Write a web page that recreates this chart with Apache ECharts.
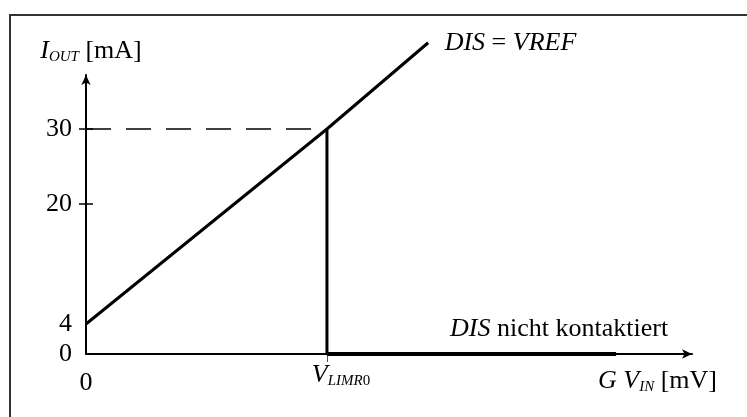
<!DOCTYPE html>
<html>
<head>
<meta charset="utf-8">
<script src="https://cdn.jsdelivr.net/npm/echarts@6/dist/echarts.min.js"></script>
<style>
html, body { margin: 0; padding: 0; background: #fff; }
#main { width: 747px; height: 417px; }
</style>
</head>
<body>
<div id="main"></div>
<script>
// G*V_IN in arbitrary units, V_LIMR0 sits at 10
var vLimr = 10;
var riseX = [0, 10, 14.2];
var riseY = [4, 30, 41.5];
var dropX = [10, 10];
var dropY = [30, 0];
var floorX = [10, 22];
var floorY = [0, 0];
var refX = [0, 10];
var refY = [30, 30];
var yLabelVals = [0, 4, 20, 30];
var yTickVals = [20, 30];
var xLabelVals = [0, 10];
var xTickVals = [10];
var riseText = '{i|DIS} = {i|VREF}';
var floorText = '{i|DIS}{n| nicht kontaktiert}';

function zip(xs, ys) {
  return xs.map(function (x, i) { return [x, ys[i]]; });
}

var serif = "'Liberation Serif', 'Times New Roman', serif";
var rich = {
  i: { fontFamily: serif, fontSize: 26, fontStyle: 'italic', lineHeight: 28, color: '#000' },
  n: { fontFamily: serif, fontSize: 26, lineHeight: 28, color: '#000' },
  s: { fontFamily: serif, fontSize: 15, fontStyle: 'italic', lineHeight: 8, verticalAlign: 'bottom', color: '#000' },
  sn: { fontFamily: serif, fontSize: 15, lineHeight: 8, verticalAlign: 'bottom', color: '#000' },
  gap: { fontSize: 1, lineHeight: 8, color: 'rgba(0,0,0,0)' },
  v: { fontFamily: serif, fontSize: 26, fontStyle: 'italic', lineHeight: 28, padding: [0, 0, 0, 28], color: '#000' }
};

var myChart = echarts.init(document.getElementById('main'));
var option = {
  backgroundColor: '#fff',
  animation: false,
  grid: { left: 86, right: 55, top: 75, bottom: 63, outerBoundsMode: 'none' },
  graphic: [{
    type: 'rect',
    silent: true,
    z: -1,
    shape: { x: 10, y: 15, width: 900, height: 600 },
    style: { fill: null, stroke: '#333', lineWidth: 2 }
  }],
  xAxis: {
    type: 'value',
    min: 0,
    max: 25.15,
    splitLine: { show: false },
    axisLine: { show: true, onZero: false, symbol: ['none', 'arrow'], symbolSize: [7, 10], lineStyle: { color: '#000', width: 2 } },
    axisTick: { show: true, customValues: xTickVals, length: 8, lineStyle: { color: '#555', width: 1 } },
    axisLabel: {
      customValues: xLabelVals,
      margin: 7,
      formatter: function (v) { return v === vLimr ? '{v|V}{s|LIMR}{sn|0}' : '{gap| }\n{n|' + v + '}'; },
      rich: rich
    },
    name: '{i|G V}{s|IN}{n| [mV]}',
    nameLocation: 'end',
    nameGap: 25,
    nameTextStyle: { align: 'right', verticalAlign: 'top', padding: [13, 0, 0, 0], rich: rich }
  },
  yAxis: [{
    type: 'value',
    min: 0,
    max: 37.2,
    position: 'left',
    splitLine: { show: false },
    axisLine: { show: true, onZero: false, symbol: ['none', 'arrow'], symbolSize: [7, 10], lineStyle: { color: '#000', width: 2 } },
    axisTick: { show: true, customValues: yTickVals, length: 7, lineStyle: { color: '#000', width: 1.5 } },
    axisLabel: {
      customValues: yLabelVals,
      margin: 14,
      formatter: function (v) { return '{n|' + v + '}'; },
      rich: rich
    },
    name: '{i|I}{s|OUT}{n| [mA]}',
    nameLocation: 'end',
    nameGap: 10,
    nameTextStyle: { padding: [0, 0, 0, 10], rich: rich }
  }, {
    // inner half of the y ticks
    type: 'value',
    min: 0,
    max: 37.2,
    position: 'left',
    offset: 0,
    splitLine: { show: false },
    axisLine: { show: false },
    axisLabel: { show: false },
    axisTick: { show: true, inside: true, customValues: yTickVals, length: 7, lineStyle: { color: '#000', width: 1.5 } }
  }],
  series: [
    {
      type: 'line',
      data: zip(refX, refY),
      symbol: 'none',
      clip: false,
      silent: true,
      lineStyle: { color: '#000', width: 1.5, type: [25, 15] }
    },
    {
      type: 'line',
      data: zip(riseX, riseY),
      clip: false,
      silent: true,
      symbol: 'circle',
      symbolSize: 1,
      showSymbol: true,
      itemStyle: { color: 'rgba(0,0,0,0)' },
      lineStyle: { color: '#000', width: 3 },
      label: {
        show: true,
        position: 'right',
        distance: 16,
        fontFamily: serif,
        fontSize: 26,
        color: '#000',
        formatter: function (p) { return p.dataIndex === riseX.length - 1 ? riseText : ''; },
        rich: rich
      }
    },
    {
      type: 'line',
      data: zip(dropX, dropY),
      clip: false,
      silent: true,
      symbol: 'none',
      lineStyle: { color: '#000', width: 3 }
    },
    {
      type: 'line',
      data: zip(floorX, floorY),
      clip: false,
      silent: true,
      symbol: 'circle',
      symbolSize: 1,
      showSymbol: true,
      itemStyle: { color: 'rgba(0,0,0,0)' },
      lineStyle: { color: '#000', width: 4 },
      label: {
        show: true,
        position: 'top',
        distance: 10,
        align: 'right',
        offset: [52, 0],
        fontFamily: serif,
        fontSize: 26,
        color: '#000',
        formatter: function (p) { return p.dataIndex === floorX.length - 1 ? floorText : ''; },
        rich: rich
      }
    }
  ]
};
myChart.setOption(option);
</script>
</body>
</html>
